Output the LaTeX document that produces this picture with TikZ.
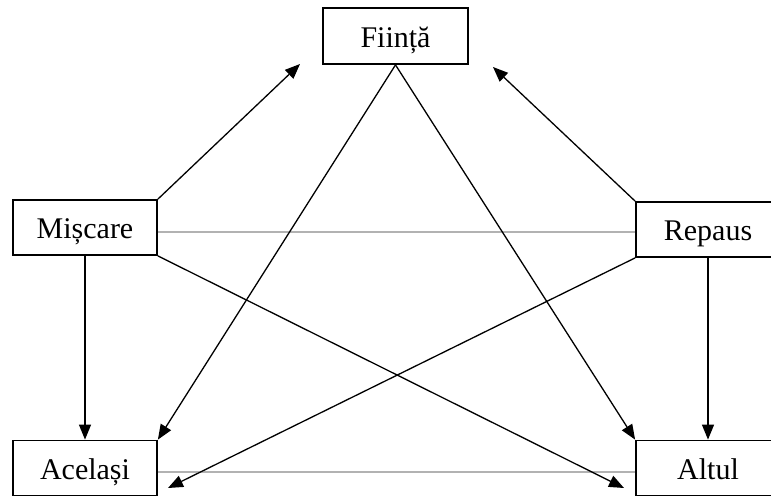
\documentclass[tikz,border=0pt]{standalone}
\usepackage{fontspec}
\setmainfont{Liberation Serif}
\usetikzlibrary{arrows.meta}
\begin{document}
\begin{tikzpicture}[x=1pt,y=-1pt,
  box/.style={draw,line width=1.8pt,minimum width=144pt,minimum height=55pt,inner sep=0pt,text height=22pt,text depth=0pt,font=\fontsize{30}{32}\selectfont,fill=white},
  arr/.style={line width=1.3pt,-{Triangle[length=15pt,width=12pt]}},
  link/.style={line width=1.4pt,draw=black!30}]
\useasboundingbox (0,0) rectangle (771,496);
\clip (0,0) rectangle (771,496);
\coordinate (fl) at (300,64);
\coordinate (fr) at (493,67);
\coordinate (tl) at (168,488);
\coordinate (tr) at (624,488);
\draw[link] (157,232) -- (636,232);
\draw[link] (157,472) -- (636,472);
\node[box,minimum width=145pt,minimum height=56pt] (F) at (395.5,36) {Ființă};
\node[box] (M) at (85,227.5) {Mișcare};
\node[box] (R) at (708,229.5) {Repaus};
\node[box] (A) at (85,468) {Același};
\node[box] (L) at (708,468) {Altul};
\draw[arr] (M.north east) -- (fl);
\draw[arr] (R.north west) -- (fr);
\draw[arr] (F.south) -- (A.north east);
\draw[arr] (F.south) -- (L.north west);
\draw[arr] (M.south east) -- (tr);
\draw[arr] (R.south west) -- (tl);
\draw[arr] (M.south) -- (A.north);
\draw[arr] (R.south) -- (L.north);
\end{tikzpicture}
\end{document}
